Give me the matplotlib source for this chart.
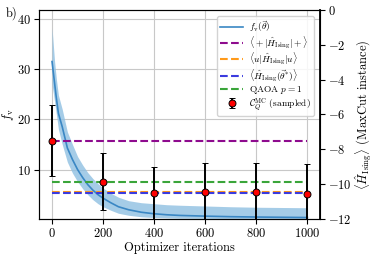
import matplotlib
matplotlib.use("Agg")
import matplotlib.pyplot as plt
import numpy as np

plt.rcParams['font.family'] = 'serif'
plt.rcParams['font.serif'] = ['cmr10']
plt.rcParams['mathtext.fontset'] = 'cm'
plt.rcParams['axes.formatter.use_mathtext'] = True
plt.rcParams['axes.unicode_minus'] = True

# f_v(theta) during optimisation
iters = [0, 10, 17, 25, 40, 60, 80, 100, 120, 140, 160, 180, 200, 230, 260,
         300, 350, 400, 450, 500, 600, 700, 800, 900, 1000]
fv_mean = [31.5, 27.2, 24.2, 21.2, 18.5, 14.3, 12.0, 10.0, 8.4, 7.0, 5.9, 5.0,
           4.3, 3.4, 2.6, 2.0, 1.5, 1.2, 1.0, 0.87, 0.73, 0.62, 0.55, 0.5, 0.45]
fv_low = [27.0, 23.5, 21.0, 18.0, 15.0, 11.5, 9.3, 7.6, 6.2, 5.0, 4.0, 3.2,
          2.6, 1.9, 1.3, 0.9, 0.6, 0.45, 0.38, 0.32, 0.28, 0.25, 0.22, 0.2, 0.2]
fv_high = [38.2, 31.5, 28.0, 24.8, 22.0, 17.5, 15.0, 12.6, 10.9, 9.4, 8.2, 7.2,
           6.3, 5.3, 4.5, 3.8, 3.4, 3.2, 3.0, 2.9, 2.75, 2.6, 2.5, 2.45, 2.4]

# reference energies (right axis)
e_plus = -7.5
e_u = -10.47
e_opt = -10.53
e_qaoa = -9.85

# sampled points with error bars (right axis)
mc_iters = [0, 200, 400, 600, 800, 1000]
mc_vals = [-7.5, -9.85, -10.5, -10.46, -10.45, -10.54]
mc_err = [2.02, 1.64, 1.5, 1.65, 1.68, 1.67]

fig = plt.figure(figsize=(3.74, 2.58), dpi=100)
ax = fig.add_axes([0.105, 0.151, 0.751, 0.811])
ax2 = ax.twinx()

band_col = '#8fc0e2'
line_col = '#3a87c4'
ax.fill_between(iters, fv_low, fv_high, color=band_col, alpha=0.8, lw=0)
ln_fv, = ax.plot(iters, fv_mean, color=line_col, lw=1.2, label=r'$f_{\mathrm{v}}(\vec{\theta})$')

ax.set_xlim(-50, 1050)
ax.set_ylim(0.15, 41.8)
ax.set_yticks([10, 20, 30, 40])
ax.set_xticks([0, 200, 400, 600, 800, 1000])
ax.grid(True, color='#c8c8c8', lw=0.8)
ax.set_axisbelow(True)
ax.tick_params(labelsize=9, pad=2.5)
ax.set_xlabel('Optimizer iterations', fontsize=9, labelpad=1)
ax.set_ylabel(r'$f_{\mathrm{v}}$', fontsize=9, labelpad=1)
for s in ['left', 'bottom', 'top']:
    ax.spines[s].set_color('#333333')

x0, x1 = iters[0], iters[-1]
h1 = ax2.hlines(e_plus, x0, x1, colors='#8e0b8e', linestyles='--', lw=1.5,
                label=r'$\langle +|\hat{H}_{\mathrm{Ising}}|+\rangle$')
h2 = ax2.hlines(e_u, x0, x1, colors='#ff9a1a', linestyles='--', lw=1.5,
                label=r'$\langle u|\hat{H}_{\mathrm{Ising}}|u\rangle$')
h3 = ax2.hlines(e_opt, x0, x1, colors='#3b3bdf', linestyles='--', lw=1.5,
                label=r'$\langle\hat{H}_{\mathrm{Ising}}(\vec{\theta}^{*})\rangle$')
h4 = ax2.hlines(e_qaoa, x0, x1, colors='#3aa53a', linestyles='--', lw=1.5,
                label=r'QAOA $p=1$')
eb = ax2.errorbar(mc_iters, mc_vals, yerr=mc_err, fmt='o', color='black',
                  mfc='red', mec='black', ms=5, mew=0.7, elinewidth=1.4,
                  capsize=2, capthick=1, zorder=5,
                  label=r'$\mathcal{C}_Q^{\mathrm{MC}}$ (sampled)')
ax2.set_ylim(-12, 0)
ax2.set_yticks([0, -2, -4, -6, -8, -10, -12])
ax2.tick_params(labelsize=9, pad=2.5)
ax2.spines['right'].set_linewidth(1.3)
ax2.set_ylabel(r'$\langle\hat{H}_{\mathrm{Ising}}\rangle$ (MaxCut instance)', fontsize=9, labelpad=1)

handles = [ln_fv, h1, h2, h3, h4, eb]
leg = ax2.legend(handles=handles, loc='upper right', fontsize=6.8,
                 bbox_to_anchor=(0.985, 0.98), handlelength=2.4,
                 handletextpad=0.6, labelspacing=0.02, borderpad=0.35,
                 borderaxespad=0.2, framealpha=0.85)

fig.text(0.016, 0.935, 'b)', fontsize=9)

fig.savefig('out.png', dpi=100)
